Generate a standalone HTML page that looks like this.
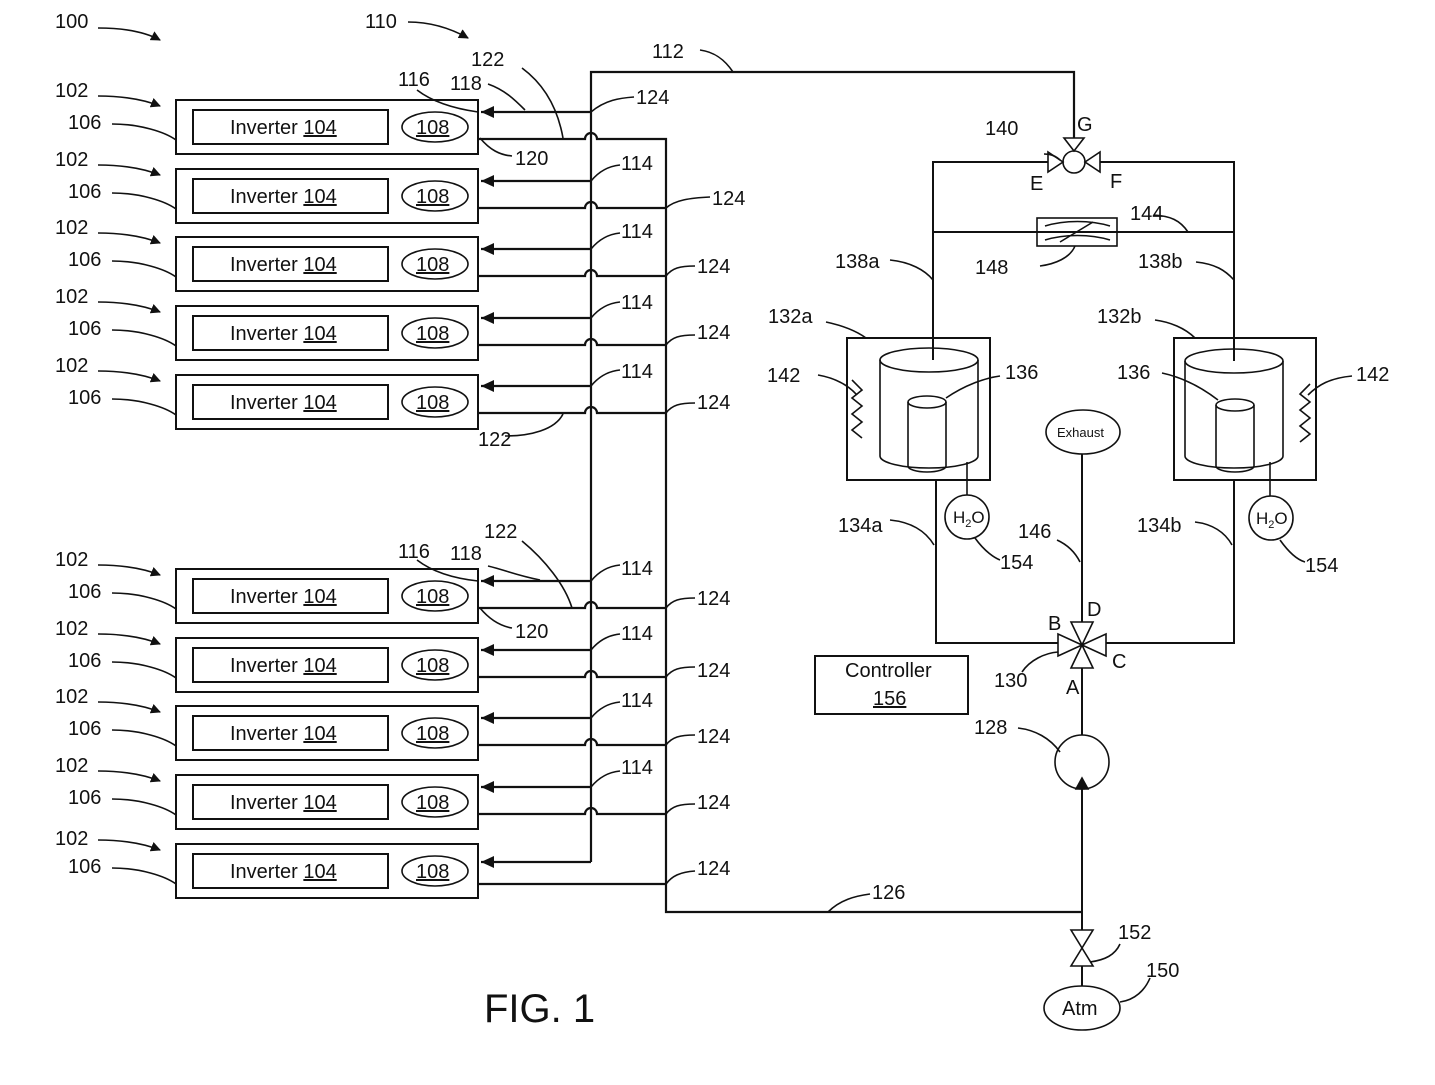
<!DOCTYPE html>
<html><head><meta charset="utf-8"><style>
html,body{margin:0;padding:0;background:#fff;}
svg{display:block;}
text{font-family:"Liberation Sans",sans-serif;fill:#111;}
.l{font-size:20px;}
.u{text-decoration:underline;}
</style></head><body>
<svg width="1435" height="1085" viewBox="0 0 1435 1085" xmlns="http://www.w3.org/2000/svg">
<defs>
<marker id="ah" markerWidth="10" markerHeight="10" refX="9" refY="5" orient="auto" markerUnits="userSpaceOnUse"><path d="M0,0 L10,5 L0,10 z" fill="#111"/></marker>
<marker id="sa" markerWidth="14" markerHeight="14" refX="13" refY="7" orient="auto" markerUnits="userSpaceOnUse"><path d="M0,1 L13,7 L0,13 z" fill="#111"/></marker>
</defs>
<g stroke="#111" fill="none" stroke-width="1.6">
<!-- top labels -->
<path d="M98,28 C125,28 145,32 160,40" marker-end="url(#ah)"/>
<path d="M408,22 C430,22 450,28 468,38" marker-end="url(#ah)"/>

<!-- rows top -->
<g stroke-width="2">
<rect x="176" y="100" width="302" height="54"/><rect x="193" y="110" width="195" height="34"/>
<rect x="176" y="169" width="302" height="54"/><rect x="193" y="179" width="195" height="34"/>
<rect x="176" y="237" width="302" height="54"/><rect x="193" y="247" width="195" height="34"/>
<rect x="176" y="306" width="302" height="54"/><rect x="193" y="316" width="195" height="34"/>
<rect x="176" y="375" width="302" height="54"/><rect x="193" y="385" width="195" height="34"/>
<rect x="176" y="569" width="302" height="54"/><rect x="193" y="579" width="195" height="34"/>
<rect x="176" y="638" width="302" height="54"/><rect x="193" y="648" width="195" height="34"/>
<rect x="176" y="706" width="302" height="54"/><rect x="193" y="716" width="195" height="34"/>
<rect x="176" y="775" width="302" height="54"/><rect x="193" y="785" width="195" height="34"/>
<rect x="176" y="844" width="302" height="54"/><rect x="193" y="854" width="195" height="34"/>
</g>
<ellipse cx="435" cy="127" rx="33" ry="15"/><ellipse cx="435" cy="196" rx="33" ry="15"/><ellipse cx="435" cy="264" rx="33" ry="15"/><ellipse cx="435" cy="333" rx="33" ry="15"/><ellipse cx="435" cy="402" rx="33" ry="15"/>
<ellipse cx="435" cy="596" rx="33" ry="15"/><ellipse cx="435" cy="665" rx="33" ry="15"/><ellipse cx="435" cy="733" rx="33" ry="15"/><ellipse cx="435" cy="802" rx="33" ry="15"/><ellipse cx="435" cy="871" rx="33" ry="15"/>

<!-- 102 / 106 leaders -->
<path d="M98,96 C125,96 145,100 160,106" marker-end="url(#ah)"/><path d="M112,124 C140,124 165,132 176,140"/>
<path d="M98,165 C125,165 145,169 160,175" marker-end="url(#ah)"/><path d="M112,193 C140,193 165,201 176,209"/>
<path d="M98,233 C125,233 145,237 160,243" marker-end="url(#ah)"/><path d="M112,261 C140,261 165,269 176,277"/>
<path d="M98,302 C125,302 145,306 160,312" marker-end="url(#ah)"/><path d="M112,330 C140,330 165,338 176,346"/>
<path d="M98,371 C125,371 145,375 160,381" marker-end="url(#ah)"/><path d="M112,399 C140,399 165,407 176,415"/>
<path d="M98,565 C125,565 145,569 160,575" marker-end="url(#ah)"/><path d="M112,593 C140,593 165,601 176,609"/>
<path d="M98,634 C125,634 145,638 160,644" marker-end="url(#ah)"/><path d="M112,662 C140,662 165,670 176,678"/>
<path d="M98,702 C125,702 145,706 160,712" marker-end="url(#ah)"/><path d="M112,730 C140,730 165,738 176,746"/>
<path d="M98,771 C125,771 145,775 160,781" marker-end="url(#ah)"/><path d="M112,799 C140,799 165,807 176,815"/>
<path d="M98,840 C125,840 145,844 160,850" marker-end="url(#ah)"/><path d="M112,868 C140,868 165,876 176,884"/>

<!-- supply network -->
<g stroke-width="2.2">
<path d="M591,862 L591,72 L1074,72 L1074,140"/>
<path d="M591,112 L481,112" marker-end="url(#sa)"/>
<path d="M591,181 L481,181" marker-end="url(#sa)"/>
<path d="M591,249 L481,249" marker-end="url(#sa)"/>
<path d="M591,318 L481,318" marker-end="url(#sa)"/>
<path d="M591,386 L481,386" marker-end="url(#sa)"/>
<path d="M591,581 L481,581" marker-end="url(#sa)"/>
<path d="M591,650 L481,650" marker-end="url(#sa)"/>
<path d="M591,718 L481,718" marker-end="url(#sa)"/>
<path d="M591,787 L481,787" marker-end="url(#sa)"/>
<path d="M591,862 L481,862" marker-end="url(#sa)"/>
<!-- return network -->
<path d="M478,139 L585,139 A6,6 0 0 1 597,139 L666,139 L666,912 L1082,912"/>
<path d="M478,208 L585,208 A6,6 0 0 1 597,208 L666,208"/>
<path d="M478,276 L585,276 A6,6 0 0 1 597,276 L666,276"/>
<path d="M478,345 L585,345 A6,6 0 0 1 597,345 L666,345"/>
<path d="M478,413 L585,413 A6,6 0 0 1 597,413 L666,413"/>
<path d="M478,608 L585,608 A6,6 0 0 1 597,608 L666,608"/>
<path d="M478,677 L585,677 A6,6 0 0 1 597,677 L666,677"/>
<path d="M478,745 L585,745 A6,6 0 0 1 597,745 L666,745"/>
<path d="M478,814 L585,814 A6,6 0 0 1 597,814 L666,814"/>
<path d="M478,884 L666,884"/>
</g>
<!-- 114/124 leaders -->
<path d="M591,112 C605,100 620,98 634,97"/>
<path d="M591,181 C600,170 610,166 620,165"/><path d="M591,249 C600,238 610,234 620,233"/><path d="M591,318 C600,307 610,303 620,302"/><path d="M591,386 C600,375 610,371 620,370"/>
<path d="M591,581 C600,570 610,566 620,565"/><path d="M591,650 C600,639 610,635 620,634"/><path d="M591,718 C600,707 610,703 620,702"/><path d="M591,787 C600,776 610,772 620,771"/>
<path d="M666,208 C675,200 690,198 710,197"/><path d="M666,276 C672,268 680,266 695,266"/><path d="M666,345 C672,337 680,335 695,335"/><path d="M666,413 C672,405 680,403 695,403"/>
<path d="M666,608 C672,600 680,598 695,598"/><path d="M666,677 C672,669 680,667 695,667"/><path d="M666,745 C672,737 680,735 695,735"/><path d="M666,814 C672,806 680,804 695,804"/><path d="M666,884 C672,876 680,872 695,871"/>
<!-- 116 118 120 122 leaders top -->
<path d="M417,90 C430,100 450,108 478,112"/>
<path d="M488,84 C505,90 515,100 525,110"/>
<path d="M522,68 C545,85 558,110 563,138"/>
<path d="M480,138 C490,150 500,155 512,156"/>
<path d="M505,436 C530,436 555,430 563,414"/>
<path d="M417,560 C430,570 450,578 478,581"/>
<path d="M488,566 C505,570 515,575 540,580"/>
<path d="M522,541 C545,560 565,585 572,608"/>
<path d="M480,608 C490,620 500,626 512,628"/>
<path d="M828,912 C840,900 855,896 870,894"/>
<path d="M700,50 C715,52 725,60 733,72"/>

<!-- right side -->
<g stroke-width="2">
<path d="M933,338 L933,162 L1058,162"/><path d="M1090,162 L1234,162 L1234,338"/>
<path d="M933,232 L1234,232"/>
<rect x="1037" y="218" width="80" height="28" stroke-width="1.6"/>
<path d="M936,480 L936,643 L1058,643"/><path d="M1106,643 L1234,643 L1234,480"/>
<path d="M1082,454 L1082,622"/>
<path d="M1082,668 L1082,735"/>
<path d="M1082,789 L1082,930"/>
<path d="M1082,966 L1082,986"/>
</g>
<path d="M1045,226 C1065,220 1090,220 1110,226"/><path d="M1045,240 C1065,234 1090,234 1110,240"/>
<path d="M1060,242 L1093,222"/>
<!-- valve 140 -->
<circle cx="1074" cy="162" r="11" fill="#fff"/>
<path d="M1063,162 L1048,152 L1048,172 z M1085,162 L1100,152 L1100,172 z M1074,151 L1064,138 L1084,138 z" fill="#fff"/>
<path d="M1044,154 C1050,154 1056,156 1060,160"/>
<path d="M1154,215 C1170,216 1180,220 1188,232" /><path d="M1075,246 C1070,258 1055,264 1040,266" />
<path d="M890,260 C910,262 925,270 933,280"/><path d="M1196,262 C1215,264 1225,270 1234,280"/>
<!-- tank a -->
<rect x="847" y="338" width="143" height="142" stroke-width="2"/>
<path d="M880,360 L880,456 A49,12 0 0 0 978,456 L978,360"/><ellipse cx="929" cy="360" rx="49" ry="12"/>
<path d="M908,402 L908,466 A19,6 0 0 0 946,466 L946,402"/><ellipse cx="927" cy="402" rx="19" ry="6"/>
<path d="M933,338 L933,360" stroke-width="2"/>
<path d="M946,398 C965,385 985,378 1000,376"/>
<path d="M852,380 L862,390 L852,398 L862,406 L852,414 L862,422 L852,430 L862,438"/>
<path d="M818,375 C835,378 848,385 857,395"/>
<path d="M826,322 C840,325 855,330 866,338"/>
<path d="M967,462 L967,495"/><circle cx="967" cy="517" r="22"/>
<path d="M975,538 C985,552 995,558 1000,560"/>
<path d="M890,520 C910,522 925,530 934,545"/>
<!-- tank b -->
<rect x="1174" y="338" width="142" height="142" stroke-width="2"/>
<path d="M1185,361 L1185,456 A49,12 0 0 0 1283,456 L1283,361"/><ellipse cx="1234" cy="361" rx="49" ry="12"/>
<path d="M1216,405 L1216,466 A19,6 0 0 0 1254,466 L1254,405"/><ellipse cx="1235" cy="405" rx="19" ry="6"/>
<path d="M1234,338 L1234,361" stroke-width="2"/>
<path d="M1162,373 C1185,378 1205,390 1218,400"/>
<path d="M1310,384 L1300,394 L1310,402 L1300,410 L1310,418 L1300,426 L1310,434 L1300,442"/>
<path d="M1352,376 C1330,378 1318,385 1308,395"/>
<path d="M1155,320 C1170,322 1185,328 1195,338"/>
<path d="M1270,462 L1270,496"/><circle cx="1271" cy="518" r="22"/>
<path d="M1280,540 C1290,554 1298,560 1305,562"/>
<path d="M1195,522 C1212,524 1225,532 1232,545"/>
<ellipse cx="1083" cy="432" rx="37" ry="22"/>
<path d="M1057,540 C1068,545 1075,552 1080,562" />
<!-- valve 130 -->
<path d="M1082,645 L1071,622 L1093,622 z M1082,645 L1071,668 L1093,668 z M1082,645 L1058,634 L1058,656 z M1082,645 L1106,634 L1106,656 z" fill="#fff"/>
<path d="M1022,672 C1030,660 1045,653 1058,652"/>
<!-- pump -->
<circle cx="1082" cy="762" r="27"/>
<path d="M1082,778 L1076,789 L1088,789 z" fill="#111"/>
<path d="M1018,728 C1035,730 1050,738 1060,752"/>
<!-- valve 152 -->
<path d="M1082,948 L1071,930 L1093,930 z M1082,948 L1071,966 L1093,966 z" fill="#fff"/>
<path d="M1090,962 C1105,960 1115,955 1120,944"/>
<ellipse cx="1082" cy="1008" rx="38" ry="22"/>
<path d="M1120,1002 C1135,1000 1145,990 1150,978"/>
<rect x="815" y="656" width="153" height="58" stroke-width="2"/>
</g>

<!-- text -->
<g class="l">
<text x="55" y="28">100</text><text x="365" y="28">110</text><text x="652" y="58">112</text>
<text x="471" y="66">122</text><text x="398" y="86">116</text><text x="450" y="90">118</text><text x="515" y="165">120</text>
<text x="636" y="104">124</text>
<text x="478" y="446">122</text>
<text x="484" y="538">122</text><text x="398" y="558">116</text><text x="450" y="560">118</text><text x="515" y="638">120</text>
<text x="55" y="97">102</text><text x="68" y="129">106</text>
<text x="55" y="166">102</text><text x="68" y="198">106</text>
<text x="55" y="234">102</text><text x="68" y="266">106</text>
<text x="55" y="303">102</text><text x="68" y="335">106</text>
<text x="55" y="372">102</text><text x="68" y="404">106</text>
<text x="55" y="566">102</text><text x="68" y="598">106</text>
<text x="55" y="635">102</text><text x="68" y="667">106</text>
<text x="55" y="703">102</text><text x="68" y="735">106</text>
<text x="55" y="772">102</text><text x="68" y="804">106</text>
<text x="55" y="845">102</text><text x="68" y="873">106</text>
<text x="621" y="170">114</text><text x="621" y="238">114</text><text x="621" y="309">114</text><text x="621" y="378">114</text>
<text x="621" y="575">114</text><text x="621" y="640">114</text><text x="621" y="707">114</text><text x="621" y="774">114</text>
<text x="712" y="205">124</text><text x="697" y="273">124</text><text x="697" y="339">124</text><text x="697" y="409">124</text>
<text x="697" y="605">124</text><text x="697" y="677">124</text><text x="697" y="743">124</text><text x="697" y="809">124</text><text x="697" y="875">124</text>
<text x="872" y="899">126</text>
<text x="985" y="135">140</text><text x="1077" y="131">G</text><text x="1030" y="190">E</text><text x="1110" y="188">F</text>
<text x="1130" y="220">144</text><text x="975" y="274">148</text>
<text x="835" y="268">138a</text><text x="1138" y="268">138b</text>
<text x="768" y="323">132a</text><text x="1097" y="323">132b</text>
<text x="767" y="382">142</text><text x="1356" y="381">142</text>
<text x="1005" y="379">136</text><text x="1117" y="379">136</text>
<text x="838" y="532">134a</text><text x="1137" y="532">134b</text>
<text x="1018" y="538">146</text>
<text x="1000" y="569">154</text><text x="1305" y="572">154</text>
<text x="1087" y="616">D</text><text x="1048" y="630">B</text><text x="1112" y="668">C</text><text x="1066" y="694">A</text>
<text x="994" y="687">130</text><text x="974" y="734">128</text>
<text x="1118" y="939">152</text><text x="1146" y="977">150</text>
<text x="1062" y="1015">Atm</text>
<text x="845" y="677">Controller</text><text x="873" y="705" class="u">156</text>
</g>
<text x="1057" y="437" style="font-size:13px">Exhaust</text>
<text x="953" y="523" style="font-size:17px">H<tspan font-size="11" dy="4">2</tspan><tspan dy="-4">O</tspan></text>
<text x="1256" y="524" style="font-size:17px">H<tspan font-size="11" dy="4">2</tspan><tspan dy="-4">O</tspan></text>
<text x="484" y="1022" style="font-size:40px">FIG. 1</text>

<g class="l">
<text x="230" y="134">Inverter <tspan class="u">104</tspan></text><text x="416" y="134" class="u">108</text>
<text x="230" y="203">Inverter <tspan class="u">104</tspan></text><text x="416" y="203" class="u">108</text>
<text x="230" y="271">Inverter <tspan class="u">104</tspan></text><text x="416" y="271" class="u">108</text>
<text x="230" y="340">Inverter <tspan class="u">104</tspan></text><text x="416" y="340" class="u">108</text>
<text x="230" y="409">Inverter <tspan class="u">104</tspan></text><text x="416" y="409" class="u">108</text>
<text x="230" y="603">Inverter <tspan class="u">104</tspan></text><text x="416" y="603" class="u">108</text>
<text x="230" y="672">Inverter <tspan class="u">104</tspan></text><text x="416" y="672" class="u">108</text>
<text x="230" y="740">Inverter <tspan class="u">104</tspan></text><text x="416" y="740" class="u">108</text>
<text x="230" y="809">Inverter <tspan class="u">104</tspan></text><text x="416" y="809" class="u">108</text>
<text x="230" y="878">Inverter <tspan class="u">104</tspan></text><text x="416" y="878" class="u">108</text>
</g>
</svg>
</body></html>
